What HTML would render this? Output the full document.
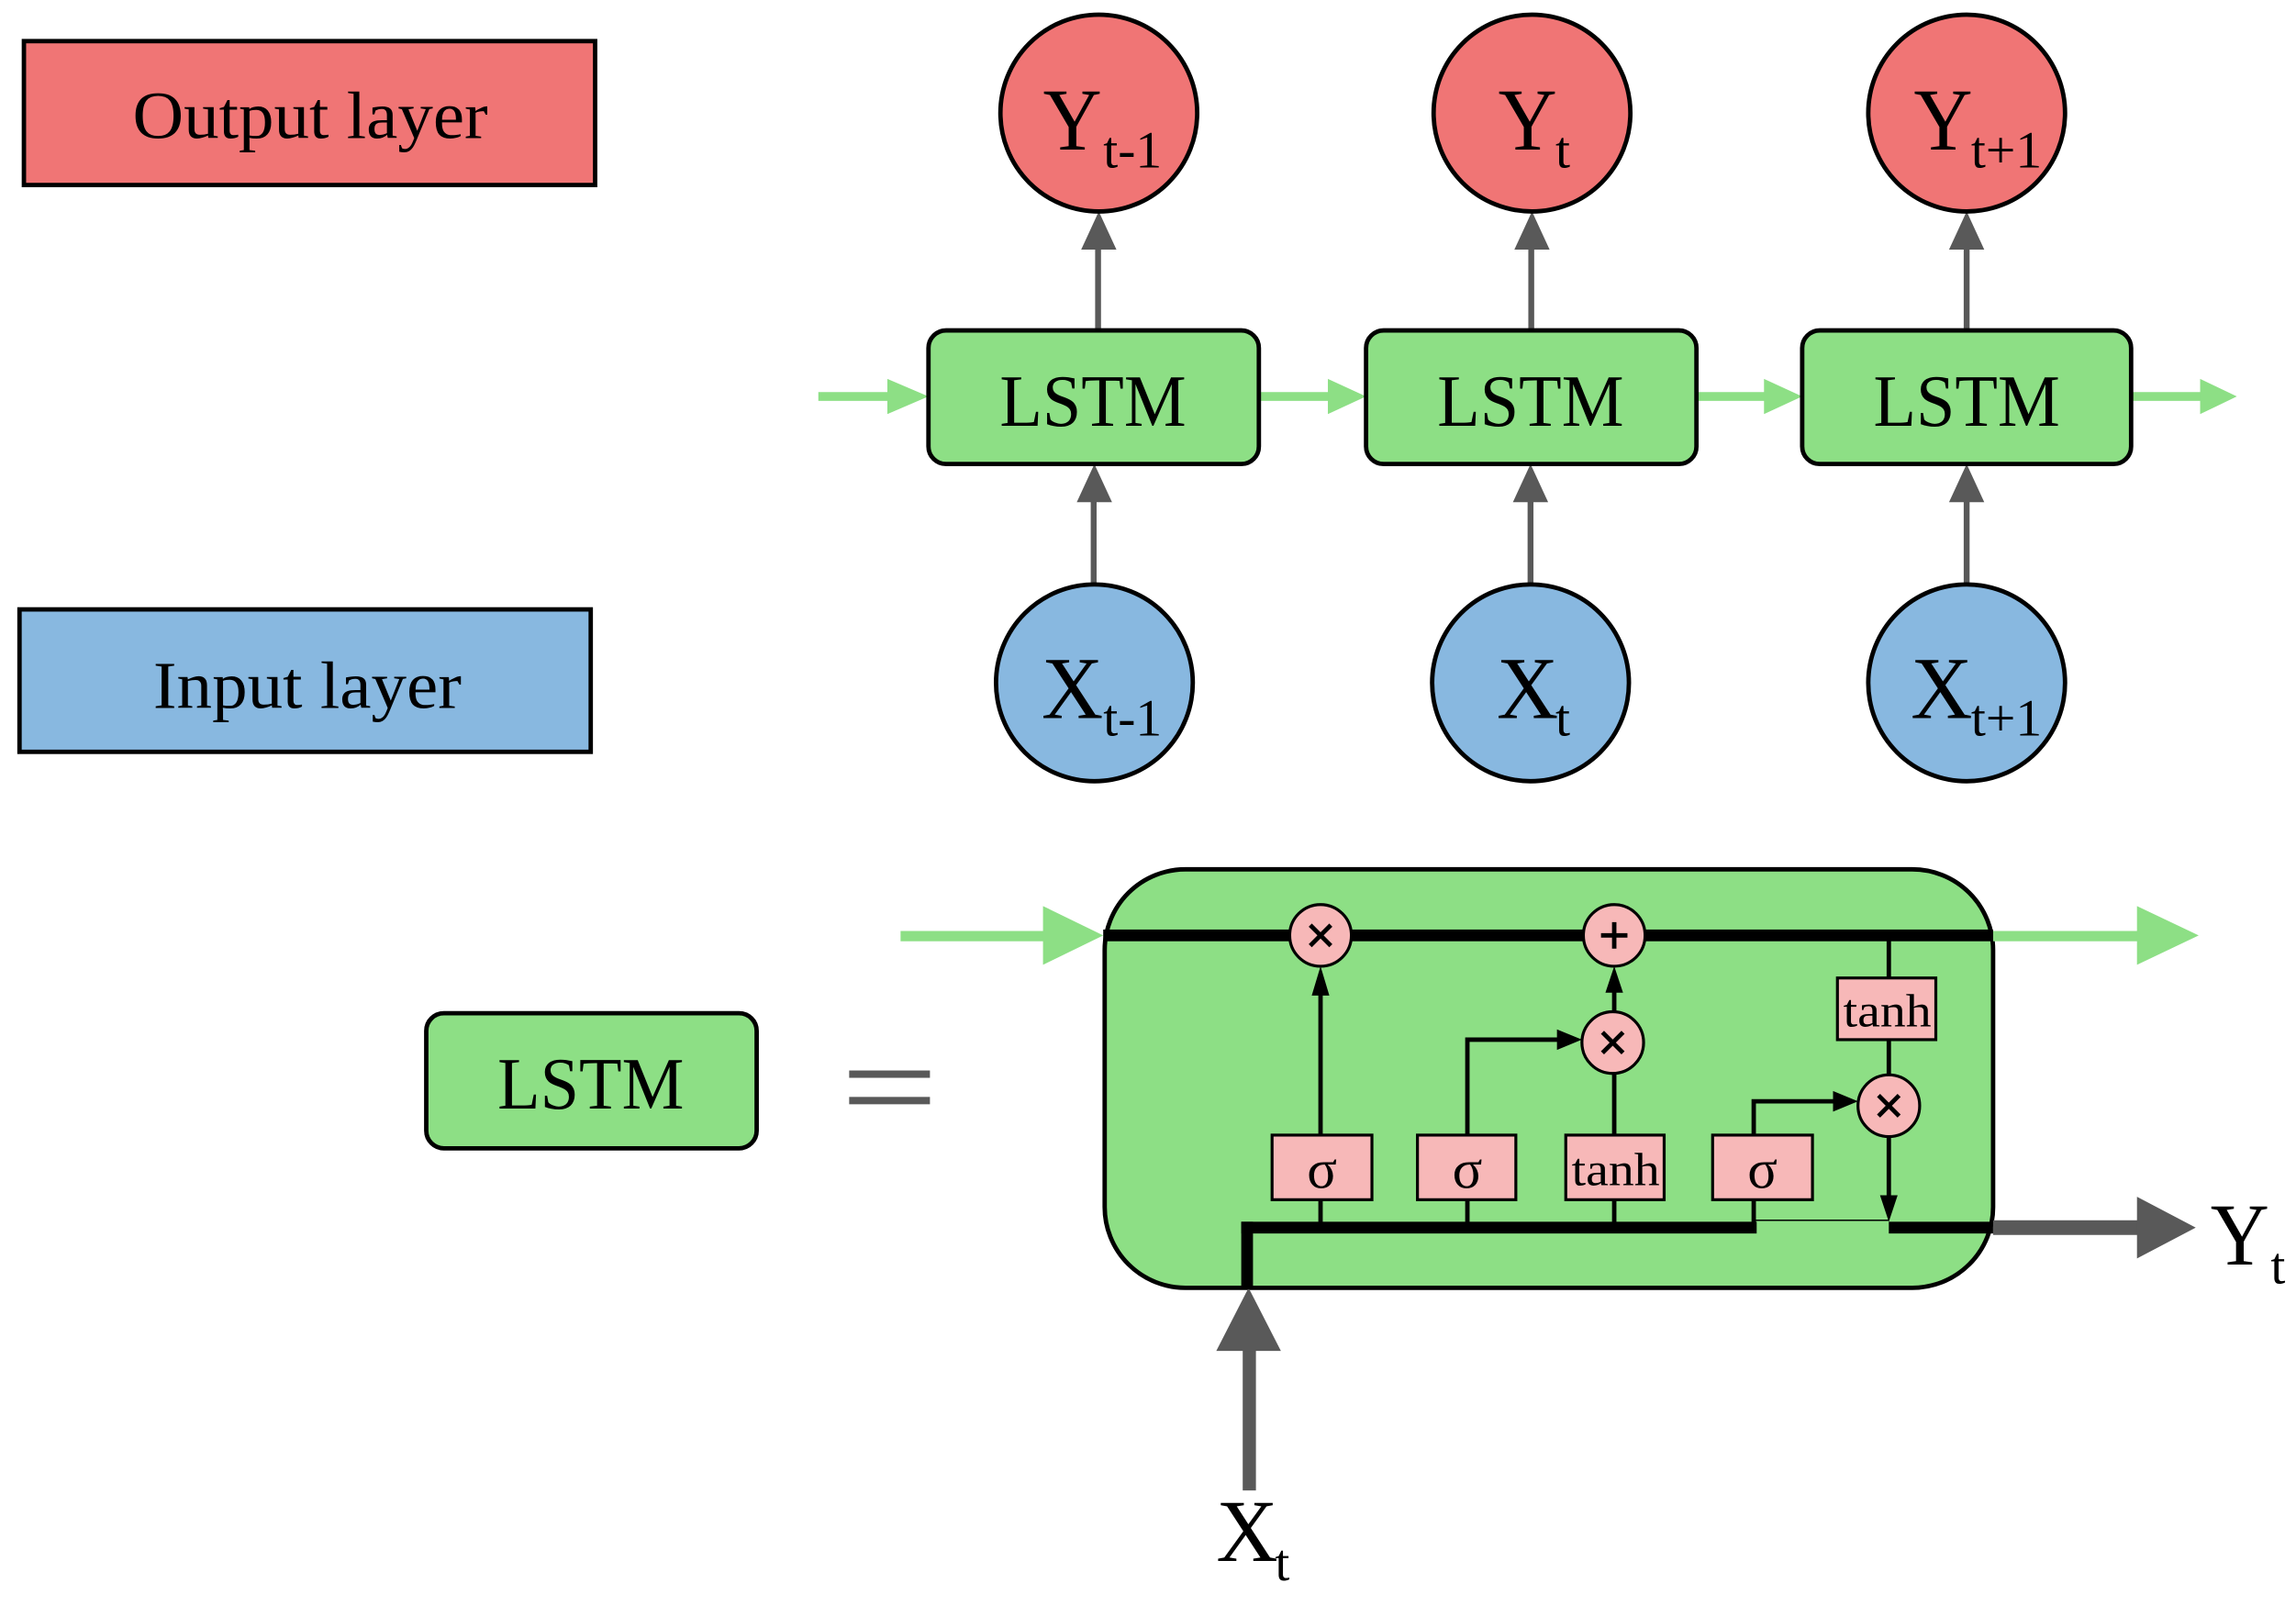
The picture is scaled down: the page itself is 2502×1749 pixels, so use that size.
<!DOCTYPE html>
<html><head><meta charset="utf-8"><style>
html,body{margin:0;padding:0;background:#fff}
svg{display:block}
text{font-family:"Liberation Serif",serif;fill:#000}
</style></head><body>
<svg width="2502" height="1749" viewBox="0 0 1563 1093" xmlns="http://www.w3.org/2000/svg">
<g transform="translate(-2,0)">
<!-- legends -->
<rect x="18" y="28" width="389" height="98" fill="#f07575" stroke="#000" stroke-width="3"/>
<text x="213" y="94" font-size="46" text-anchor="middle" textLength="242" lengthAdjust="spacingAndGlyphs">Output layer</text>
<rect x="15" y="415" width="389" height="97" fill="#88b8e0" stroke="#000" stroke-width="3"/>
<text x="211" y="482" font-size="46" text-anchor="middle" textLength="210" lengthAdjust="spacingAndGlyphs">Input layer</text>

<!-- green horizontal arrows -->
<g fill="#8ddf85" stroke="none">
<rect x="559" y="267" width="50" height="6"/><polygon points="606,258 634,270 606,282"/>
<rect x="859" y="267" width="50" height="6"/><polygon points="906,258 932,270 906,282"/>
<rect x="1157" y="267" width="50" height="6"/><polygon points="1203,258 1229,270 1203,282"/>
<rect x="1453" y="267" width="50" height="6"/><polygon points="1500,258 1525,270 1500,282"/>
</g>

<!-- gray vertical arrows -->
<g fill="#595959">
<rect x="747.5" y="168" width="4" height="57"/><polygon points="738,170 750,144 762,170"/>
<rect x="1042.5" y="168" width="4" height="57"/><polygon points="1033,170 1045,144 1057,170"/>
<rect x="1339" y="168" width="4" height="57"/><polygon points="1329,170 1341,144 1353,170"/>
<rect x="744.5" y="340" width="4" height="58"/><polygon points="735,342 747,316 759,342"/>
<rect x="1042" y="340" width="4" height="58"/><polygon points="1032,342 1044,316 1056,342"/>
<rect x="1339" y="340" width="4" height="58"/><polygon points="1329,342 1341,316 1353,342"/>
</g>

<g fill="#f07575" stroke="#000" stroke-width="3">
<circle cx="750" cy="77" r="67"/><circle cx="1045" cy="77" r="67"/><circle cx="1341" cy="77" r="67"/>
</g>
<g fill="#88b8e0" stroke="#000" stroke-width="3">
<circle cx="747" cy="465" r="67"/><circle cx="1044" cy="465" r="67"/><circle cx="1341" cy="465" r="67"/>
</g>
<g font-size="60">
<text x="712" y="102" textLength="40" lengthAdjust="spacingAndGlyphs">Y</text>
<text x="1022" y="102" textLength="40" lengthAdjust="spacingAndGlyphs">Y</text>
<text x="1305" y="102" textLength="40" lengthAdjust="spacingAndGlyphs">Y</text>
<text x="711" y="489" textLength="42" lengthAdjust="spacingAndGlyphs">X</text>
<text x="1021" y="489" textLength="42" lengthAdjust="spacingAndGlyphs">X</text>
<text x="1303" y="489" textLength="42" lengthAdjust="spacingAndGlyphs">X</text>
</g>
<g font-size="36">
<text x="753" y="114">t-1</text><text x="1061" y="114">t</text><text x="1344" y="114">t+1</text>
<text x="753" y="501">t-1</text><text x="1061" y="501">t</text><text x="1344" y="501">t+1</text>
</g>

<g fill="#8ddf85" stroke="#000" stroke-width="3">
<rect x="634" y="225" width="225" height="91" rx="12"/>
<rect x="932" y="225" width="225" height="91" rx="12"/>
<rect x="1229" y="225" width="224" height="91" rx="12"/>
<rect x="292" y="690" width="225" height="92" rx="12"/>
</g>
<g font-size="50" text-anchor="middle">
<text x="746" y="290" textLength="127" lengthAdjust="spacingAndGlyphs">LSTM</text>
<text x="1044" y="290" textLength="127" lengthAdjust="spacingAndGlyphs">LSTM</text>
<text x="1341" y="290" textLength="127" lengthAdjust="spacingAndGlyphs">LSTM</text>
<text x="404" y="755" textLength="127" lengthAdjust="spacingAndGlyphs">LSTM</text>
</g>
<rect x="580" y="729" width="55" height="5" fill="#595959"/>
<rect x="580" y="747" width="55" height="5" fill="#595959"/>

<!-- cell -->
<rect x="754" y="592" width="605" height="285" rx="55" fill="#8ddf85" stroke="#000" stroke-width="3"/>
<g fill="#8ddf85">
<rect x="615" y="634" width="100" height="7"/><polygon points="712,617 753,637 712,657"/>
<rect x="1359" y="634" width="100" height="7"/><polygon points="1457,617 1499,637 1457,657"/>
</g>
<rect x="753" y="633" width="606" height="8" fill="#000"/>
<g fill="#595959">
<rect x="1359" y="831" width="100" height="10"/><polygon points="1457,815 1497,836 1457,857"/>
<rect x="848" y="918" width="9" height="97"/><polygon points="830,920 852,877 874,920"/>
</g>
<rect x="847" y="832" width="351" height="8" fill="#000"/>
<rect x="847" y="832" width="8" height="46" fill="#000"/>
<rect x="1288" y="832" width="71" height="8" fill="#000"/>
<line x1="1197" y1="831" x2="1288" y2="831" stroke="#000" stroke-width="1"/>

<g stroke="#000" stroke-width="3" fill="none">
<line x1="901" y1="836" x2="901" y2="676"/>
<polyline points="1001,836 1001,708 1067,708"/>
<line x1="1101" y1="836" x2="1101" y2="731"/>
<line x1="1101" y1="689" x2="1101" y2="672"/>
<polyline points="1196,836 1196,750 1254,750"/>
<line x1="1288" y1="637" x2="1288" y2="820"/>
</g>
<g fill="#000">
<polygon points="895,678 901,658 907,678"/>
<polygon points="1095,676 1101,658 1107,676"/>
<polygon points="1062,701 1079,708 1062,715"/>
<polygon points="1250,743 1267,750 1250,757"/>
<polygon points="1282,814 1288,832 1294,814"/>
</g>
<g fill="#f7b8b8" stroke="#000" stroke-width="2">
<rect x="868" y="773" width="68" height="44"/>
<rect x="967" y="773" width="67" height="44"/>
<rect x="1068" y="773" width="67" height="44"/>
<rect x="1168" y="773" width="68" height="44"/>
<rect x="1253" y="666" width="67" height="42"/>
</g>
<text x="902" y="809" font-size="38" text-anchor="middle">σ</text>
<text x="1001" y="809" font-size="38" text-anchor="middle">σ</text>
<text x="1102" y="807" font-size="32" text-anchor="middle" textLength="60" lengthAdjust="spacingAndGlyphs">tanh</text>
<text x="1202" y="809" font-size="38" text-anchor="middle">σ</text>
<text x="1287" y="699" font-size="32" text-anchor="middle" textLength="60" lengthAdjust="spacingAndGlyphs">tanh</text>
<g fill="#f7b8b8" stroke="#000" stroke-width="2">
<circle cx="901" cy="637" r="21"/><circle cx="1101" cy="637" r="21"/>
<circle cx="1100" cy="710" r="21"/><circle cx="1288" cy="753" r="21"/>
</g>
<g stroke="#000" stroke-width="3">
<path d="M894 630 L908 644 M908 630 L894 644"/>
<path d="M1101 628 L1101 646 M1092 637 L1110 637"/>
<path d="M1093 703 L1107 717 M1107 703 L1093 717"/>
<path d="M1281 746 L1295 760 M1295 746 L1281 760"/>
</g>
<text x="1507" y="861" font-size="60" textLength="40" lengthAdjust="spacingAndGlyphs">Y</text><text x="1548" y="874" font-size="36">t</text>
<text x="830" y="1063" font-size="60" textLength="42" lengthAdjust="spacingAndGlyphs">X</text><text x="870" y="1076" font-size="36">t</text>
</g>
</svg>
</body></html>
